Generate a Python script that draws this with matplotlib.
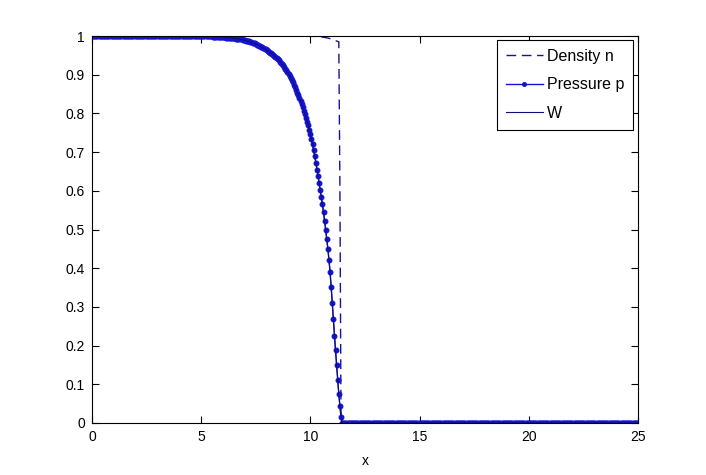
import numpy as np
import matplotlib
matplotlib.use("Agg")
import matplotlib.pyplot as plt

plt.rcParams['font.family'] = ['Liberation Sans', 'DejaVu Sans']

# grid: 0 .. 25, step 0.05 (501 points)
x = np.linspace(0, 25, 501)

# Pressure p
p_left = [1.0] * 100  # x = 0.00 .. 4.95
p_mid = [
    # 5.00 - 5.95
    1.000, 1.000, 1.000, 1.000, 1.000, 0.999, 0.999, 0.999, 0.999, 0.999,
    0.999, 0.998, 0.998, 0.998, 0.998, 0.998, 0.997, 0.997, 0.997, 0.997,
    # 6.00 - 6.95
    0.997, 0.997, 0.997, 0.996, 0.996, 0.996, 0.996, 0.995, 0.995, 0.995,
    0.994, 0.994, 0.993, 0.993, 0.992, 0.992, 0.991, 0.991, 0.990, 0.990,
    # 7.00 - 7.95
    0.989, 0.988, 0.987, 0.987, 0.986, 0.985, 0.984, 0.983, 0.982, 0.981,
    0.979, 0.978, 0.977, 0.975, 0.974, 0.972, 0.971, 0.969, 0.967, 0.966,
    # 8.00 - 8.95
    0.963, 0.961, 0.959, 0.957, 0.955, 0.953, 0.951, 0.948, 0.946, 0.943,
    0.940, 0.937, 0.934, 0.931, 0.927, 0.924, 0.920, 0.916, 0.912, 0.907,
    # 9.00 - 9.95
    0.902, 0.897, 0.892, 0.886, 0.880, 0.874, 0.868, 0.861, 0.854, 0.847,
    0.840, 0.832, 0.824, 0.816, 0.807, 0.798, 0.789, 0.779, 0.769, 0.758,
    # 10.00 - 10.95
    0.747, 0.734, 0.720, 0.705, 0.690, 0.673, 0.655, 0.638, 0.620, 0.603,
    0.585, 0.565, 0.545, 0.523, 0.500, 0.475, 0.450, 0.422, 0.390, 0.352,
    # 11.00 - 11.45
    0.310, 0.268, 0.225, 0.188, 0.150, 0.112, 0.075, 0.045, 0.015, 0.000,
]
p_right = [0.0] * 271  # x = 11.50 .. 25.00
pressure = p_left + p_mid + p_right

# Density n
n_left = [1.0] * 200  # x = 0.00 .. 9.95
n_mid = [
    # 10.00 - 10.95
    1.000, 1.000, 1.000, 0.999, 0.999, 0.999, 0.999, 0.998, 0.998, 0.998,
    0.998, 0.997, 0.997, 0.996, 0.996, 0.995, 0.995, 0.994, 0.993, 0.992,
    # 11.00 - 11.45
    0.991, 0.990, 0.989, 0.988, 0.987, 0.986, 0.985, 0.620, 0.030, 0.000,
]
n_right = [0.0] * 271
density = n_left + n_mid + n_right

# W (coincides with pressure)
w_values = list(pressure)

labels = ['Density n', 'Pressure p', 'W']
xticks = [0, 5, 10, 15, 20, 25]
yticks = [0, 0.1, 0.2, 0.3, 0.4, 0.5, 0.6, 0.7, 0.8, 0.9, 1]
ytick_labels = ['0', '0.1', '0.2', '0.3', '0.4', '0.5', '0.6', '0.7', '0.8', '0.9', '1']

fig = plt.figure(figsize=(7.06, 4.75), dpi=100)
ax = fig.add_axes([92/706, 52/475, 546/706, 387/475])

ax.plot(x, density, linestyle=(0, (7, 4)), color='#14149a', linewidth=1.0, label=labels[0])
ax.plot(x, pressure, linestyle='-', marker='.', markersize=6.5, color='#1414d2',
        linewidth=1.0, label=labels[1])
ax.plot(x, w_values, linestyle='-', color='#10107a', linewidth=0.8, label=labels[2])

ax.set_xlim(0, 25)
ax.set_ylim(0, 1)
ax.set_xticks(xticks)
ax.set_xticklabels([str(t) for t in xticks])
ax.set_yticks(yticks)
ax.set_yticklabels(ytick_labels)
ax.tick_params(direction='in', length=5, width=0.8, top=True, right=True,
               labelsize=10, pad=5)
for s in ax.spines.values():
    s.set_linewidth(0.8)
ax.set_xlabel('x', fontsize=10, labelpad=7)

leg = ax.legend(loc='upper right', bbox_to_anchor=(1 - 5/546, 1 - 4/387),
                borderaxespad=0, fancybox=False, edgecolor='black', framealpha=1,
                fontsize=11.5, handlelength=2.3, labelspacing=0.85,
                borderpad=0.55, handletextpad=0.25, markerscale=0.8)
leg.get_frame().set_linewidth(0.8)

fig.savefig('out.png', dpi=100)
